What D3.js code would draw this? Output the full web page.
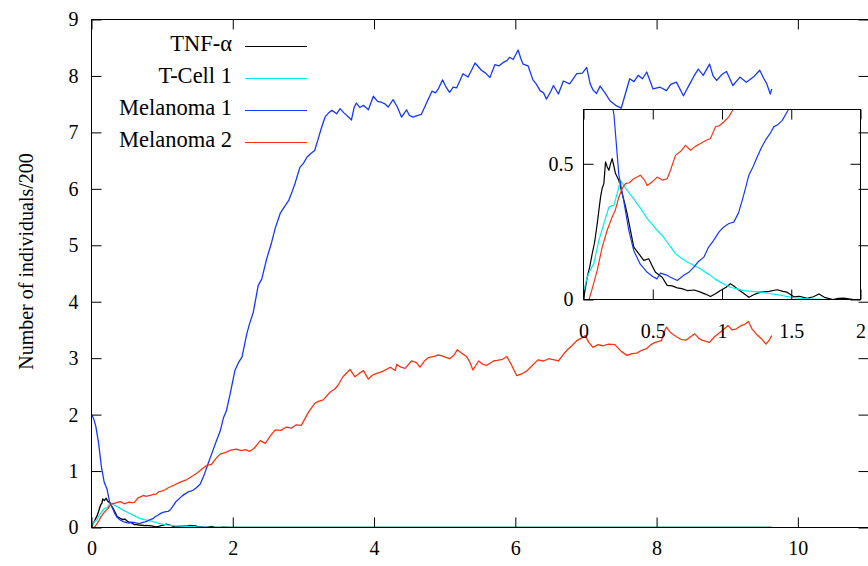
<!DOCTYPE html>
<html>
<head>
<meta charset="utf-8">
<script src="https://cdn.jsdelivr.net/npm/d3@7"></script>
<style>
  html, body { margin: 0; padding: 0; background: #fff; }
  svg { display: block; }
</style>
</head>
<body>
<svg id="chart" width="868" height="566"></svg>
<script>
// Stochastic simulation output: [time, individuals/200]
const tnfAlpha = [
  [0, 0], [0.027, 0.082], [0.045, 0.12], [0.063, 0.169], [0.08, 0.21], [0.099, 0.279],
  [0.123, 0.377], [0.135, 0.41], [0.147, 0.427], [0.159, 0.507], [0.17, 0.49], [0.183, 0.476],
  [0.195, 0.50], [0.207, 0.519], [0.22, 0.49], [0.231, 0.464], [0.255, 0.439], [0.279, 0.39],
  [0.295, 0.36], [0.315, 0.316], [0.339, 0.255], [0.363, 0.193], [0.399, 0.169], [0.435, 0.144],
  [0.471, 0.15], [0.50, 0.12], [0.52, 0.10], [0.568, 0.082], [0.604, 0.052], [0.64, 0.05],
  [0.677, 0.043], [0.71, 0.04], [0.749, 0.033], [0.8, 0.035], [0.845, 0.027], [0.88, 0.02],
  [0.917, 0.011], [0.95, 0.02], [0.989, 0.033], [1.03, 0.045], [1.061, 0.058], [1.085, 0.05],
  [1.11, 0.04], [1.15, 0.025], [1.194, 0.008], [1.24, 0.02], [1.278, 0.027], [1.34, 0.03],
  [1.398, 0.036], [1.44, 0.03], [1.47, 0.027], [1.518, 0.01], [1.56, 0.012], [1.615, 0.004],
  [1.66, 0.01], [1.70, 0.02], [1.74, 0.008], [1.80, 0], [1.84, 0.004], [1.88, 0.005],
  [1.95, 0], [9.63, 0]
];

const tCell1 = [
  [0, 0.03], [0.027, 0.082], [0.05, 0.11], [0.075, 0.132], [0.09, 0.17], [0.111, 0.218],
  [0.13, 0.25], [0.147, 0.279], [0.165, 0.31], [0.183, 0.34], [0.2, 0.345], [0.219, 0.347],
  [0.243, 0.39], [0.267, 0.439], [0.29, 0.42], [0.315, 0.402], [0.35, 0.38], [0.387, 0.353],
  [0.42, 0.33], [0.46, 0.298], [0.5, 0.275], [0.532, 0.255], [0.57, 0.235], [0.604, 0.211],
  [0.635, 0.19], [0.664, 0.169], [0.7, 0.155], [0.749, 0.138], [0.8, 0.125], [0.845, 0.113],
  [0.88, 0.10], [0.917, 0.089], [0.95, 0.075], [0.989, 0.064], [1.02, 0.055], [1.061, 0.045],
  [1.1, 0.04], [1.157, 0.033], [1.22, 0.03], [1.278, 0.027], [1.34, 0.022], [1.398, 0.018],
  [1.46, 0.012], [1.518, 0.007], [1.57, 0.004], [1.62, 0.002], [1.75, 0], [9.63, 0]
];

const melanoma1 = [
  [0, 2.0], [0.03, 1.93], [0.06, 1.80], [0.1, 1.50], [0.14, 1.08], [0.18, 0.80], [0.2, 0.74],
  [0.22, 0.68], [0.255, 0.46], [0.29, 0.365], [0.327, 0.255], [0.363, 0.18], [0.41, 0.13],
  [0.46, 0.10], [0.5, 0.085], [0.53, 0.076], [0.556, 0.097], [0.6, 0.09], [0.628, 0.082],
  [0.677, 0.07], [0.724, 0.089], [0.76, 0.10], [0.797, 0.119], [0.83, 0.14], [0.869, 0.156],
  [0.9, 0.19], [0.94, 0.218], [0.98, 0.25], [1.013, 0.267], [1.05, 0.28], [1.085, 0.285],
  [1.12, 0.32], [1.146, 0.365], [1.17, 0.41], [1.194, 0.458], [1.225, 0.49], [1.254, 0.525],
  [1.285, 0.56], [1.314, 0.587], [1.345, 0.61], [1.374, 0.636], [1.405, 0.645], [1.435, 0.66],
  [1.48, 0.70], [1.54, 0.77], [1.6, 0.95], [1.65, 1.13], [1.7, 1.3], [1.77, 1.54], [1.82, 1.70],
  [1.87, 1.95], [1.91, 2.07], [1.96, 2.35], [2.03, 2.78], [2.08, 2.92], [2.13, 3.02], [2.2, 3.44],
  [2.24, 3.62], [2.29, 3.81], [2.36, 4.29], [2.41, 4.40], [2.48, 4.76], [2.55, 5.05], [2.6, 5.30],
  [2.67, 5.56], [2.73, 5.68], [2.79, 5.79], [2.84, 5.95], [2.88, 6.09], [2.95, 6.38], [3.0, 6.45],
  [3.05, 6.56], [3.1, 6.62], [3.16, 6.68], [3.21, 6.89], [3.26, 7.10], [3.31, 7.28], [3.36, 7.35],
  [3.40, 7.39], [3.44, 7.36], [3.47, 7.33], [3.52, 7.42], [3.57, 7.35], [3.63, 7.28], [3.68, 7.22],
  [3.72, 7.45], [3.75, 7.52], [3.8, 7.44], [3.85, 7.48], [3.92, 7.40], [3.99, 7.64], [4.05, 7.55],
  [4.11, 7.53], [4.16, 7.50], [4.20, 7.45], [4.27, 7.58], [4.33, 7.45], [4.39, 7.27], [4.46, 7.40],
  [4.5, 7.30], [4.55, 7.27], [4.62, 7.30], [4.67, 7.32], [4.74, 7.51], [4.82, 7.73], [4.87, 7.70],
  [4.91, 7.77], [4.97, 7.93], [5.02, 7.80], [5.07, 7.71], [5.12, 7.80], [5.17, 7.79], [5.26, 8.04],
  [5.33, 7.98], [5.38, 8.10], [5.43, 8.23], [5.52, 8.10], [5.58, 8.05], [5.64, 7.97], [5.71, 8.20],
  [5.77, 8.18], [5.83, 8.24], [5.88, 8.27], [5.92, 8.33], [5.97, 8.29], [6.04, 8.46], [6.08, 8.30],
  [6.11, 8.21], [6.18, 8.18], [6.25, 7.93], [6.3, 7.85], [6.35, 7.74], [6.4, 7.70], [6.44, 7.59],
  [6.5, 7.72], [6.54, 7.83], [6.61, 7.68], [6.68, 7.91], [6.77, 7.86], [6.87, 8.04], [6.95, 8.05],
  [7.01, 8.15], [7.06, 7.86], [7.1, 7.75], [7.15, 7.69], [7.20, 7.82], [7.27, 7.70], [7.34, 7.56],
  [7.42, 7.48], [7.50, 7.43], [7.55, 7.65], [7.62, 7.95], [7.68, 7.90], [7.74, 8.01], [7.8, 7.95],
  [7.86, 8.07], [7.95, 7.77], [8.05, 7.80], [8.14, 7.74], [8.2, 7.85], [8.28, 7.89], [8.38, 7.65],
  [8.47, 7.86], [8.53, 8.0], [8.59, 8.12], [8.66, 8.01], [8.75, 8.21], [8.80, 8.0], [8.85, 7.92],
  [8.92, 8.02], [8.99, 8.08], [9.08, 7.83], [9.18, 7.98], [9.27, 7.89], [9.37, 7.98], [9.46, 8.10],
  [9.52, 7.95], [9.56, 7.86], [9.61, 7.68], [9.63, 7.77]
];

const melanoma2 = [
  [0, 0], [0.04, 0], [0.063, 0.04], [0.099, 0.107], [0.135, 0.193], [0.171, 0.255], [0.207, 0.304],
  [0.23, 0.33], [0.255, 0.377], [0.28, 0.41], [0.303, 0.427], [0.33, 0.43], [0.363, 0.445],
  [0.41, 0.458], [0.44, 0.44], [0.46, 0.42], [0.5, 0.435], [0.532, 0.451], [0.57, 0.44],
  [0.604, 0.445], [0.628, 0.476], [0.664, 0.531], [0.7, 0.545], [0.736, 0.568], [0.773, 0.55],
  [0.81, 0.565], [0.845, 0.575], [0.88, 0.585], [0.917, 0.593], [0.953, 0.636], [0.98, 0.64],
  [1.013, 0.654], [1.049, 0.673], [1.08, 0.70], [1.15, 0.74], [1.25, 0.80], [1.35, 0.85],
  [1.44, 0.92], [1.5, 0.97], [1.56, 1.03], [1.63, 1.10], [1.7, 1.12], [1.76, 1.22], [1.82, 1.30],
  [1.9, 1.33], [1.97, 1.37], [2.05, 1.39], [2.12, 1.36], [2.18, 1.38], [2.24, 1.35], [2.3, 1.40],
  [2.39, 1.54], [2.46, 1.49], [2.53, 1.62], [2.6, 1.73], [2.68, 1.72], [2.76, 1.78], [2.83, 1.76],
  [2.9, 1.82], [2.97, 1.81], [3.07, 2.04], [3.16, 2.20], [3.22, 2.24], [3.28, 2.26], [3.38, 2.40],
  [3.44, 2.45], [3.49, 2.52], [3.56, 2.67], [3.66, 2.80], [3.73, 2.67], [3.79, 2.73], [3.85, 2.78],
  [3.92, 2.63], [3.98, 2.70], [4.04, 2.73], [4.13, 2.77], [4.23, 2.84], [4.30, 2.78], [4.32, 2.89],
  [4.38, 2.84], [4.44, 2.82], [4.53, 2.95], [4.6, 2.92], [4.65, 2.84], [4.72, 2.96], [4.77, 3.01],
  [4.85, 3.03], [4.91, 3.06], [4.98, 3.03], [5.07, 2.99], [5.13, 3.05], [5.18, 3.15], [5.25, 3.08],
  [5.31, 3.03], [5.36, 2.92], [5.40, 2.79], [5.48, 2.95], [5.53, 2.90], [5.59, 2.87], [5.69, 2.95],
  [5.74, 2.96], [5.82, 2.98], [5.88, 3.03], [5.95, 2.87], [6.02, 2.69], [6.09, 2.72], [6.16, 2.77],
  [6.24, 2.87], [6.32, 2.97], [6.40, 2.95], [6.47, 2.99], [6.55, 2.97], [6.61, 2.95], [6.67, 3.05],
  [6.73, 3.14], [6.8, 3.22], [6.87, 3.31], [6.94, 3.36], [6.99, 3.40], [7.04, 3.28], [7.10, 3.19],
  [7.17, 3.24], [7.24, 3.22], [7.32, 3.25], [7.41, 3.24], [7.5, 3.12], [7.58, 3.05], [7.65, 3.08],
  [7.72, 3.09], [7.79, 3.14], [7.86, 3.17], [7.92, 3.24], [7.98, 3.28], [8.07, 3.31], [8.1, 3.45],
  [8.14, 3.55], [8.2, 3.45], [8.28, 3.38], [8.35, 3.33], [8.42, 3.32], [8.48, 3.38], [8.54, 3.43],
  [8.6, 3.35], [8.64, 3.32], [8.75, 3.28], [8.82, 3.38], [8.90, 3.46], [8.96, 3.52], [9.01, 3.58],
  [9.07, 3.50], [9.13, 3.52], [9.20, 3.58], [9.25, 3.60], [9.30, 3.65], [9.35, 3.52], [9.41, 3.43],
  [9.48, 3.35], [9.55, 3.25], [9.6, 3.33], [9.63, 3.40]
];

const seriesNames = ["TNF-\u03B1", "T-Cell 1", "Melanoma 1", "Melanoma 2"];
const seriesColors = ["#000000", "#00eeee", "#1438ff", "#ff3210"];
const seriesData = [tnfAlpha, tCell1, melanoma1, melanoma2];

const mainXTicks = [0, 2, 4, 6, 8, 10];
const mainYTicks = [0, 1, 2, 3, 4, 5, 6, 7, 8, 9];
const insetXTicks = [0, 0.5, 1, 1.5, 2];
const insetYTicks = [0, 0.5];
const yTitle = "Number of individuals/200";

const serifFont = "'Liberation Serif', 'DejaVu Serif', serif";

const svg = d3.select("#chart");

// Main panel scales
const x = d3.scaleLinear().domain([0, 11]).range([91.5, 868.5]);
const y = d3.scaleLinear().domain([0, 9]).range([527.5, 19.5]);

// Inset panel scales
const xi = d3.scaleLinear().domain([0, 2]).range([583.5, 860.5]);
const yi = d3.scaleLinear().domain([0, 0.7]).range([299.5, 109.5]);

const defs = svg.append("defs");
defs.append("clipPath").attr("id", "clip-main").append("rect")
  .attr("x", x(0)).attr("y", y(9)).attr("width", x(11) - x(0)).attr("height", y(0) - y(9));
defs.append("clipPath").attr("id", "clip-inset").append("rect")
  .attr("x", xi(0)).attr("y", yi(0.7)).attr("width", xi(2) - xi(0)).attr("height", yi(0) - yi(0.7));

function styleAxis(g) {
  g.attr("font-family", serifFont).attr("font-size", 20);
  g.select(".domain").remove();
  g.selectAll(".tick line").attr("stroke", "#000").attr("stroke-width", 1);
  g.selectAll(".tick text")
    .style("font-family", serifFont)
    .style("font-size", "20px")
    .attr("fill", "#000");
}

// Main data lines
const mainLine = d3.line().x(d => x(d[0])).y(d => y(d[1]));
const mainLines = svg.append("g").attr("clip-path", "url(#clip-main)");
seriesData.forEach((data, i) => {
  mainLines.append("path").datum(data)
    .attr("d", mainLine)
    .attr("fill", "none")
    .attr("stroke", seriesColors[i])
    .attr("stroke-width", 1.3)
    .attr("stroke-linejoin", "round");
});

// Inset panel
const inset = svg.append("g");
inset.append("rect")
  .attr("x", xi(0)).attr("y", yi(0.7)).attr("width", xi(2) - xi(0)).attr("height", yi(0) - yi(0.7))
  .attr("fill", "#fff");
const insetLine = d3.line().x(d => xi(d[0])).y(d => yi(d[1]));
const insetLines = inset.append("g").attr("clip-path", "url(#clip-inset)");
seriesData.forEach((data, i) => {
  insetLines.append("path").datum(data)
    .attr("d", insetLine)
    .attr("fill", "none")
    .attr("stroke", seriesColors[i])
    .attr("stroke-width", 1.2)
    .attr("stroke-linejoin", "round");
});
inset.append("g").attr("transform", `translate(0,${yi(0)})`)
  .call(d3.axisBottom(xi).tickValues(insetXTicks).tickSize(-10).tickPadding(24).tickFormat(d3.format("")))
  .call(styleAxis);
inset.append("g").attr("transform", `translate(0,${yi(0.7)})`)
  .call(d3.axisTop(xi).tickValues(insetXTicks).tickSize(-10).tickFormat(""))
  .call(styleAxis);
inset.append("g").attr("transform", `translate(${xi(0)},0)`)
  .call(d3.axisLeft(yi).tickValues(insetYTicks).tickSize(-10).tickPadding(10).tickFormat(d3.format("")))
  .call(styleAxis);
inset.append("g").attr("transform", `translate(${xi(2)},0)`)
  .call(d3.axisRight(yi).tickValues(insetYTicks).tickSize(-10).tickFormat(""))
  .call(styleAxis);
inset.append("rect")
  .attr("x", xi(0)).attr("y", yi(0.7)).attr("width", xi(2) - xi(0)).attr("height", yi(0) - yi(0.7))
  .attr("fill", "none").attr("stroke", "#000").attr("stroke-width", 1);

// Main axes and frame
svg.append("g").attr("transform", `translate(0,${y(0)})`)
  .call(d3.axisBottom(x).tickValues(mainXTicks).tickSize(-10).tickPadding(13).tickFormat(d3.format("")))
  .call(styleAxis);
svg.append("g").attr("transform", `translate(0,${y(9)})`)
  .call(d3.axisTop(x).tickValues(mainXTicks).tickSize(-10).tickFormat(""))
  .call(styleAxis);
svg.append("g").attr("transform", `translate(${x(0)},0)`)
  .call(d3.axisLeft(y).tickValues(mainYTicks).tickSize(-10).tickPadding(13).tickFormat(d3.format("")))
  .call(styleAxis);
svg.append("g").attr("transform", `translate(${x(11)},0)`)
  .call(d3.axisRight(y).tickValues(mainYTicks).tickSize(-10).tickFormat(""))
  .call(styleAxis);
svg.append("rect")
  .attr("x", x(0)).attr("y", y(9)).attr("width", x(11) - x(0)).attr("height", y(0) - y(9))
  .attr("fill", "none").attr("stroke", "#000").attr("stroke-width", 1);

// Y-axis title
svg.append("text")
  .attr("transform", `translate(33,${(y(0) + y(9)) / 2 - 12}) rotate(-90)`)
  .attr("text-anchor", "middle")
  .style("font-family", serifFont)
  .style("font-size", "20px")
  .attr("fill", "#000")
  .text(yTitle);

// Legend
const legend = svg.append("g");
seriesNames.forEach((name, i) => {
  const base = 51 + i * 32;
  legend.append("text")
    .attr("x", 232).attr("y", base)
    .attr("text-anchor", "end")
    .style("font-family", serifFont)
    .style("font-size", "22.5px")
    .attr("fill", "#000")
    .text(name);
  legend.append("line")
    .attr("x1", 245).attr("x2", 307)
    .attr("y1", base - 4.5).attr("y2", base - 4.5)
    .attr("stroke", seriesColors[i])
    .attr("stroke-width", 1.1);
});
</script>
</body>
</html>
